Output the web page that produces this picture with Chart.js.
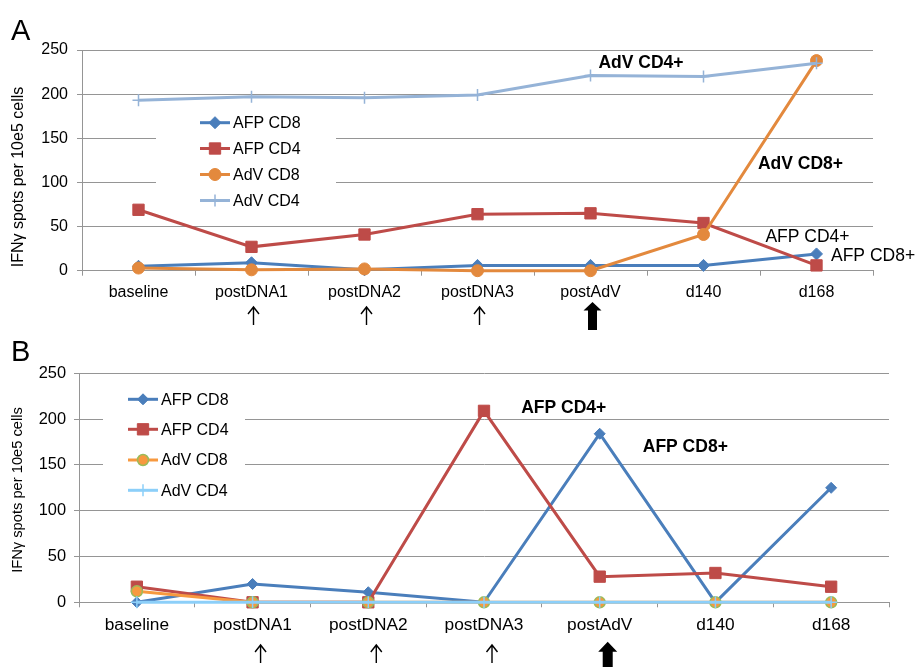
<!DOCTYPE html>
<html><head><meta charset="utf-8">
<script src="https://cdn.jsdelivr.net/npm/chart.js@4/dist/chart.umd.min.js"></script>
<style>
html,body{margin:0;padding:0;background:#fff;}
#wrap{position:relative;width:917px;height:667px;overflow:hidden;}
canvas{position:absolute;left:0;}
#ca{top:0;} #cb{top:330px;}
</style></head><body>
<div id="wrap"><canvas id="ca" width="917" height="330" style="width:917px;height:330px"></canvas><canvas id="cb" width="917" height="337" style="width:917px;height:337px"></canvas></div>
<script>
// ---- data ----
const categories = ['baseline','postDNA1','postDNA2','postDNA3','postAdV','d140','d168'];
const seriesNames = ['AFP CD8','AFP CD4','AdV CD8','AdV CD4'];
const yTicks = [0, 50, 100, 150, 200, 250];
const yTitle = 'IFNγ spots per 10e5 cells';

const aAfpCd8 = [5, 9, 1, 6, 6, 6, 19];
const aAfpCd4 = [69, 27, 41, 64, 65, 54, 6];
const aAdvCd8 = [3, 1, 2, 0, 0, 41, 238];
const aAdvCd4 = [193, 197, 196, 199, 221, 220, 235];

const bAfpCd8 = [0, 20, 11, 0, 184, 0, 125];
const bAfpCd4 = [17, 0, 0, 209, 28, 32, 17];
const bAdvCd8 = [12, 0, 0, 0, 0, 0, 0];
const bAdvCd4 = [0, 0, 0, 0, 0, 0, 0];

const thinArrowCats = ['postDNA1','postDNA2','postDNA3'];
const thickArrowCats = ['postAdV'];

const aNotes = ['AdV CD4+','AdV CD8+','AFP CD4+','AFP CD8+'];
const bNotes = ['AFP CD4+','AFP CD8+'];

// ---- styling ----
const FONT = '"Liberation Sans", Arial, Helvetica, sans-serif';
const GRID = '#959595';

function drawMarker(ctx, style, x, y, r, fill, stroke, bw) {
  ctx.save();
  ctx.fillStyle = fill; ctx.strokeStyle = stroke; ctx.lineWidth = bw;
  ctx.beginPath();
  if (style === 'rectRot') {
    ctx.moveTo(x, y - r); ctx.lineTo(x + r, y); ctx.lineTo(x, y + r); ctx.lineTo(x - r, y); ctx.closePath();
    ctx.fill(); if (bw) ctx.stroke();
  } else if (style === 'rect') {
    const s = r * Math.SQRT1_2;
    ctx.rect(x - s, y - s, 2 * s, 2 * s); ctx.fill(); if (bw) ctx.stroke();
  } else if (style === 'circle') {
    ctx.arc(x, y, r, 0, Math.PI * 2); ctx.fill(); if (bw) ctx.stroke();
  } else if (style === 'cross') {
    ctx.moveTo(x, y - r); ctx.lineTo(x, y + r); ctx.moveTo(x - r, y); ctx.lineTo(x + r, y); ctx.stroke();
  }
  ctx.restore();
}

function ds(label, data, color, style, radius, fill, border, bw, order) {
  return {
    label, data, borderColor: color, backgroundColor: fill || color,
    borderWidth: 3, tension: 0, pointStyle: style, pointRadius: radius,
    pointBackgroundColor: fill || color, pointBorderColor: border || color,
    pointBorderWidth: bw, order: order, clip: false
  };
}

function makeDecor(p) {
  return {
    id: 'decor',
    beforeDatasetsDraw(chart) {
      const ctx = chart.ctx;
      ctx.save(); ctx.fillStyle = '#fff';
      ctx.fillRect(p.legBox[0], p.legBox[1], p.legBox[2], p.legBox[3]);
      ctx.restore();
    },
    afterDatasetsDraw(chart) {
      const ctx = chart.ctx;
      // legend
      chart.data.datasets.forEach((d, i) => {
        const y = p.legRows[i];
        ctx.save();
        ctx.strokeStyle = d.borderColor; ctx.lineWidth = 3;
        ctx.beginPath(); ctx.moveTo(p.legX, y); ctx.lineTo(p.legX + 30, y); ctx.stroke();
        ctx.restore();
        drawMarker(ctx, d.pointStyle, p.legX + 15, y, d.pointRadius, d.pointBackgroundColor, d.pointBorderColor, d.pointBorderWidth);
        ctx.save();
        ctx.fillStyle = '#000'; ctx.font = p.legFont + 'px ' + FONT;
        ctx.textBaseline = 'middle'; ctx.textAlign = 'left';
        ctx.fillText(d.label, p.legX + 33, y + 1);
        ctx.restore();
      });
      // annotations
      p.notes.forEach(n => {
        ctx.save();
        ctx.fillStyle = '#000';
        ctx.font = (n.bold ? 'bold ' : '') + '17.5px ' + FONT;
        ctx.textBaseline = 'middle'; ctx.textAlign = n.align || 'center';
        ctx.fillText(n.text, n.x, n.y);
        ctx.restore();
      });
    },
    afterDraw(chart) {
      const ctx = chart.ctx;
      const xs = chart.scales.x;
      // panel letter
      ctx.save(); ctx.fillStyle = '#000'; ctx.font = '29px ' + FONT;
      ctx.textBaseline = 'alphabetic'; ctx.textAlign = 'left';
      ctx.fillText(p.letter, 11, p.letterY); ctx.restore();
      // y title
      ctx.save(); ctx.translate(p.titleX, p.titleY); ctx.rotate(-Math.PI / 2);
      ctx.fillStyle = '#000'; ctx.font = p.titleFont + 'px ' + FONT;
      ctx.textAlign = 'center'; ctx.textBaseline = 'middle';
      ctx.fillText(yTitle, 0, 0); ctx.restore();
      // thin arrows
      thinArrowCats.forEach(c => {
        const x = xs.getPixelForValue(categories.indexOf(c)) + p.arrowDx;
        ctx.save(); ctx.strokeStyle = '#000'; ctx.lineWidth = 1.4;
        ctx.beginPath();
        ctx.moveTo(x, p.thinBottom); ctx.lineTo(x, p.thinTop);
        ctx.moveTo(x - 5.5, p.thinTop + 7); ctx.lineTo(x, p.thinTop); ctx.lineTo(x + 5.5, p.thinTop + 7);
        ctx.stroke(); ctx.restore();
      });
      thickArrowCats.forEach(c => {
        const x = xs.getPixelForValue(categories.indexOf(c)) + p.arrowDx;
        const t = p.thickTop, hb = t + p.headH, b = p.thickBottom, hw = p.headW, sw = p.shaftW;
        ctx.save(); ctx.fillStyle = '#000';
        ctx.beginPath();
        ctx.moveTo(x, t); ctx.lineTo(x + hw, hb); ctx.lineTo(x + sw, hb); ctx.lineTo(x + sw, b);
        ctx.lineTo(x - sw, b); ctx.lineTo(x - sw, hb); ctx.lineTo(x - hw, hb); ctx.closePath();
        ctx.fill(); ctx.restore();
      });
    }
  };
}

function buildChart(id, datasets, p) {
  return new Chart(document.getElementById(id), {
    type: 'line',
    data: { labels: categories, datasets },
    options: {
      responsive: false, animation: false, devicePixelRatio: 1,
      layout: { padding: { left: 0, right: p.padRight, top: p.padTop, bottom: 0 } },
      plugins: { legend: { display: false }, tooltip: { enabled: false } },
      scales: {
        x: {
          type: 'category', offset: true,
          grid: { offset: true, drawOnChartArea: false, drawTicks: true, tickLength: 5, color: GRID },
          border: { color: GRID, width: 1 },
          ticks: { font: { family: FONT, size: p.xFont }, color: '#000', padding: p.xPad, maxRotation: 0, autoSkip: false },
          afterFit(s) { s.height = p.xHeight; }
        },
        y: {
          min: 0, max: 250,
          afterBuildTicks(s) { s.ticks = yTicks.map(v => ({ value: v })); },
          grid: { color: GRID, tickLength: 5, lineWidth: 1 },
          border: { color: GRID, width: 1 },
          ticks: { font: { family: FONT, size: p.yFont }, color: '#000', padding: p.yPad },
          afterFit(s) { s.width = p.yWidth; }
        }
      }
    },
    plugins: [makeDecor(p)]
  });
}

const A_ADV8 = '#E3893D', A_ADV4 = '#95B3D7', AFP8 = '#4A7EBB', AFP4 = '#BE4B48';
const B_ADV8 = '#F7993F', B_ADV4 = '#8CCFF9';

buildChart('ca', [
  ds(seriesNames[0], aAfpCd8, AFP8, 'rectRot', 6, null, null, 1, 3),
  ds(seriesNames[1], aAfpCd4, AFP4, 'rect', 8, null, null, 1, 2),
  ds(seriesNames[2], aAdvCd8, A_ADV8, 'circle', 6, null, null, 1, 1),
  ds(seriesNames[3], aAdvCd4, A_ADV4, 'cross', 6, null, null, 1.5, 0)
], {
  padRight: 44, padTop: 50, xHeight: 59.3, yWidth: 82, xFont: 16, yFont: 16, xPad: 7, yPad: 9,
  legBox: [156, 104, 180, 112], legX: 200, legRows: [122.7, 148.5, 174.5, 200.5], legFont: 16,
  notes: [
    { text: aNotes[0], x: 641, y: 62.7, bold: true },
    { text: aNotes[1], x: 800.5, y: 164, bold: true },
    { text: aNotes[2], x: 807.5, y: 237, bold: false },
    { text: aNotes[3], x: 831, y: 256, bold: false, align: 'left' }
  ],
  letter: 'A', letterY: 40, titleX: 19, titleY: 177, titleFont: 16,
  arrowDx: 2, thinTop: 307, thinBottom: 325, thickTop: 302, headH: 8.5, thickBottom: 330, headW: 9, shaftW: 4.5
});

buildChart('cb', [
  ds(seriesNames[0], bAfpCd8, AFP8, 'rectRot', 5.5, null, null, 1, 3),
  ds(seriesNames[1], bAfpCd4, AFP4, 'rect', 8, null, null, 1, 2),
  ds(seriesNames[2], bAdvCd8, B_ADV8, 'circle', 5.5, B_ADV8, '#9BBB59', 1.5, 1),
  ds(seriesNames[3], bAdvCd4, B_ADV4, 'cross', 6, null, null, 1.5, 0)
], {
  padRight: 28, padTop: 43.3, xHeight: 64.7, yWidth: 79, xFont: 17.3, yFont: 16.4, xPad: 8, yPad: 8,
  legBox: [103, 55, 142, 117], legX: 128, legRows: [69.3, 99.3, 130, 160.3], legFont: 16,
  notes: [
    { text: bNotes[0], x: 563.7, y: 78.3, bold: true },
    { text: bNotes[1], x: 685.3, y: 116.7, bold: true }
  ],
  letter: 'B', letterY: 30.5, titleX: 18, titleY: 160, titleFont: 14.7,
  arrowDx: 8, thinTop: 315, thinBottom: 333, thickTop: 311.7, headH: 10, thickBottom: 337, headW: 9.5, shaftW: 5
});
</script>
</body></html>
